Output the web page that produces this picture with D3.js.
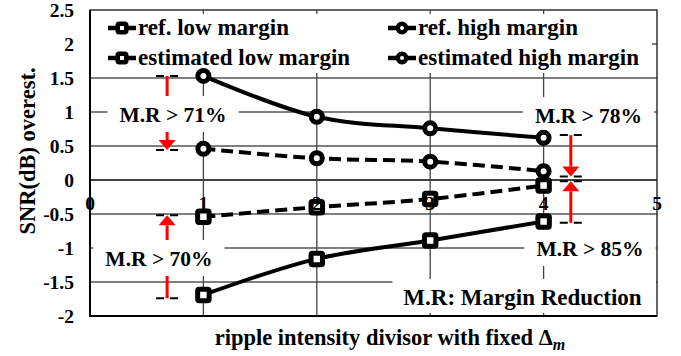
<!DOCTYPE html>
<html><head><meta charset="utf-8">
<script src="https://cdn.jsdelivr.net/npm/d3@7"></script>
<style>
body{margin:0;background:#fff}
svg{display:block}
text{font-family:"Liberation Serif","Times New Roman",serif;font-weight:bold;fill:#000}
</style>
</head><body><svg id="c" width="681" height="356"></svg>
<script>
// ---- data ----
const xValues = [1, 2, 3, 4];
const refLow = [-1.69, -1.16, -0.89, -0.61];
const estLow = [-0.54, -0.40, -0.28, -0.08];
const refHigh = [1.53, 0.93, 0.76, 0.62];
const estHigh = [0.46, 0.32, 0.27, 0.13];
const xTickValues = [0, 1, 2, 3, 4, 5];
const yTickValues = [-2, -1.5, -1, -0.5, 0, 0.5, 1, 1.5, 2, 2.5];
const seriesNames = ["ref. low margin", "ref. high margin", "estimated low margin", "estimated high margin"];
const mrLabels = ["M.R > 71%", "M.R > 70%", "M.R > 78%", "M.R > 85%"];
const mrArrowX = [0.68, 0.68, 4.24, 4.24];
const mrTail = [1.53, -1.74, 0.66, -0.63];
const mrHead = [0.44, -0.52, 0.05, -0.02];
const noteText = "M.R: Margin Reduction";
const yTitle = "SNR(dB) overest.";

// ---- layout ----
const svg = d3.select("#c");
const L = 90, R = 657, T = 10, B = 316;
const x = d3.scaleLinear().domain([0, 5]).range([L, R]);
const y = d3.scaleLinear().domain([-2, 2.5]).range([B, T]);
const labelPos = [[0.732, 0.963], [0.608, -1.154], [4.396, 0.949], [4.409, -1.007]];
const notePos = [3.814, -1.728];

// gridlines
const g = svg.append("g");
g.selectAll("line.h").data(yTickValues.filter(v => v > -2 && v < 2.5)).join("line")
  .attr("x1", L).attr("x2", R).attr("y1", d => y(d)).attr("y2", d => y(d))
  .attr("stroke", d => d === 0 ? "#000" : "#555").attr("stroke-width", d => d === 0 ? 1.5 : 1.3);
g.selectAll("line.v").data(xTickValues.filter(v => v > 0 && v < 5)).join("line")
  .attr("x1", d => x(d)).attr("x2", d => x(d)).attr("y1", T).attr("y2", B)
  .attr("stroke", "#444").attr("stroke-width", 1.3);

// frame
svg.append("rect").attr("x", L).attr("y", T).attr("width", R - L).attr("height", B - T)
  .attr("fill", "none").attr("stroke", "#333").attr("stroke-width", 1.5);
svg.append("line").attr("x1", L).attr("x2", L).attr("y1", T).attr("y2", B + 1).attr("stroke", "#000").attr("stroke-width", 2);
svg.append("line").attr("x1", L).attr("x2", R).attr("y1", B).attr("y2", B).attr("stroke", "#000").attr("stroke-width", 2);

// arrows
const arr = svg.append("g");
mrArrowX.forEach((ax, i) => {
  const cx = x(ax), yt = y(mrTail[i]), yh = y(mrHead[i]);
  const dir = yh > yt ? 1 : -1;
  const base = yh - dir * 10;
  arr.append("line").attr("x1", cx).attr("x2", cx).attr("y1", yt).attr("y2", base)
    .attr("stroke", "#f00").attr("stroke-width", 3);
  arr.append("path").attr("d", `M${cx - 8.5},${base} L${cx + 8.5},${base} L${cx},${yh} Z`).attr("fill", "#f00");
  [yt, yh].forEach(yy => {
    arr.append("line").attr("x1", cx - 11).attr("x2", cx + 11).attr("y1", yy).attr("y2", yy)
      .attr("stroke", "#000").attr("stroke-width", 2).attr("stroke-dasharray", "8,6");
  });
});

// labels with white boxes
function boxedText(tx, ty, txt, fs, padX, padTop, padBot) {
  const grp = svg.append("g");
  const r = grp.append("rect").attr("fill", "#fff");
  const t = grp.append("text").attr("x", tx).attr("y", ty + 7.5).attr("text-anchor", "middle")
    .attr("font-size", fs).text(txt);
  const bb = t.node().getBBox();
  r.attr("x", bb.x - padX).attr("width", bb.width + 2 * padX)
   .attr("y", ty - 7.5 - padTop).attr("height", 15 + padTop + padBot);
  return grp;
}
mrLabels.forEach((lab, i) => boxedText(x(labelPos[i][0]), y(labelPos[i][1]), lab, 21.5, 12, 11, 10));
{
  const grp = svg.append("g");
  const r = grp.append("rect").attr("fill", "#fff");
  const t = grp.append("text").attr("x", x(notePos[0])).attr("y", y(notePos[1]) + 7.5)
    .attr("text-anchor", "middle").attr("font-size", 23).text(noteText);
  const bb = t.node().getBBox();
  r.attr("x", bb.x - 11).attr("width", R - 1 - (bb.x - 11)).attr("y", y(notePos[1]) - 18.5).attr("height", B - 3 - (y(notePos[1]) - 18.5));
}

// legend box
svg.append("rect").attr("x", L + 1).attr("y", 14).attr("width", 652 - L - 1).attr("height", 59).attr("fill", "#fff");

// series
const line = d3.line().x((d, i) => x(xValues[i])).y(d => y(d)).curve(d3.curveCatmullRom.alpha(0.5));
const series = [
  {v: refLow, dash: null, m: "sq"},
  {v: refHigh, dash: null, m: "ci"},
  {v: estLow, dash: "12,6", m: "sq"},
  {v: estHigh, dash: "12,6", m: "ci"}
];
series.forEach(s => {
  svg.append("path").attr("d", line(s.v)).attr("fill", "none").attr("stroke", "#000")
    .attr("stroke-width", 4).attr("stroke-dasharray", s.dash);
});
function marker(sel, cx, cy, type, size, sw) {
  if (type === "sq") {
    sel.append("rect").attr("x", cx - size / 2).attr("y", cy - size / 2).attr("width", size).attr("height", size)
      .attr("fill", "#fff").attr("stroke", "#000").attr("stroke-width", sw).attr("rx", 1.5);
  } else {
    sel.append("circle").attr("cx", cx).attr("cy", cy).attr("r", size / 2)
      .attr("fill", "#fff").attr("stroke", "#000").attr("stroke-width", sw);
  }
}
series.forEach(s => s.v.forEach((d, i) => marker(svg, x(xValues[i]), y(d), s.m, s.m === "sq" ? 11.5 : 11, 5)));

// tick labels
svg.append("g").selectAll("text").data(yTickValues).join("text")
  .attr("x", 74).attr("y", d => y(d) + 7).attr("text-anchor", "end").attr("font-size", 19.5).text(d => String(d));
svg.append("g").selectAll("text").data(xTickValues).join("text")
  .attr("x", d => x(d)).attr("y", y(0) + 30).attr("text-anchor", "middle").attr("font-size", 19.5).text(d => String(d));

// axis titles
svg.append("text").attr("transform", "translate(35,151) rotate(-90)").attr("text-anchor", "middle")
  .attr("font-size", 22.5).text(yTitle);
const xt = svg.append("text").attr("x", 390).attr("y", 345).attr("text-anchor", "middle").attr("font-size", 22.5);
xt.append("tspan").text("ripple intensity divisor with fixed \u0394");
xt.append("tspan").attr("font-style", "italic").attr("font-size", 16).attr("dy", 5).text("m");

// legend
const legCols = [122, 402], legRows = [35, 65];
seriesNames.forEach((nm, i) => {
  const cx = legCols[i % 2], by = legRows[Math.floor(i / 2)], cy = by - 7;
  svg.append("line").attr("x1", cx - 14).attr("x2", cx + 14).attr("y1", cy).attr("y2", cy)
    .attr("stroke", "#000").attr("stroke-width", 4.5);
  marker(svg, cx, cy, i % 2 === 0 ? "sq" : "ci", 8.5, 4.5);
  svg.append("text").attr("x", cx + 16).attr("y", by).attr("font-size", 23).text(nm);
});
</script>
</body></html>
